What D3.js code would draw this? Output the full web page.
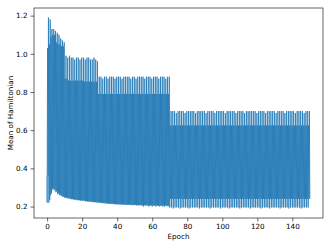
<!DOCTYPE html>
<html>
<head>
<meta charset="utf-8">
<script src="https://cdn.jsdelivr.net/npm/d3@7"></script>
<style>
  html, body { margin: 0; padding: 0; background: #fff; }
  svg { display: block; }
  text { font-family: "DejaVu Sans", sans-serif; }
</style>
</head>
<body>
<svg id="chart"></svg>
<script>
// per-epoch levels (epochs 0..149)
const highPeak = [
  1.19, 1.18, 1.13, 1.13, 1.12, 1.11, 1.10, 1.08, 1.07, 1.06,
  0.99, 0.98, 0.99, 0.98, 0.98, 0.97, 0.98, 0.98, 0.97, 0.98,
  0.98, 0.97, 0.98, 0.98, 0.97, 0.97, 0.98, 0.97, 0.96, 0.88,
  0.88, 0.87, 0.88, 0.88, 0.87, 0.88, 0.88, 0.88, 0.87, 0.88,
  0.88, 0.88, 0.87, 0.88, 0.88, 0.88, 0.88, 0.87, 0.88, 0.88,
  0.87, 0.88, 0.88, 0.88, 0.88, 0.87, 0.88, 0.88, 0.88, 0.87,
  0.88, 0.88, 0.88, 0.87, 0.88, 0.88, 0.88, 0.87, 0.88, 0.88,
  0.70, 0.70, 0.70, 0.69, 0.70, 0.70, 0.70, 0.70, 0.69, 0.70,
  0.70, 0.70, 0.70, 0.70, 0.69, 0.70, 0.70, 0.70, 0.70, 0.70,
  0.69, 0.70, 0.70, 0.70, 0.70, 0.69, 0.70, 0.70, 0.70, 0.70,
  0.70, 0.69, 0.70, 0.70, 0.70, 0.70, 0.70, 0.69, 0.70, 0.70,
  0.70, 0.70, 0.69, 0.70, 0.70, 0.70, 0.70, 0.70, 0.70, 0.69,
  0.70, 0.70, 0.70, 0.70, 0.69, 0.70, 0.70, 0.70, 0.70, 0.70,
  0.69, 0.70, 0.70, 0.70, 0.70, 0.69, 0.70, 0.70, 0.70, 0.70,
  0.70, 0.69, 0.70, 0.70, 0.70, 0.70, 0.69, 0.70, 0.70, 0.70
]
const highBody = [
  1.03, 1.05, 1.09, 1.10, 1.10, 1.06, 1.05, 1.05, 1.04, 1.04,
  0.87, 0.87, 0.86, 0.86, 0.86, 0.86, 0.86, 0.86, 0.86, 0.86,
  0.86, 0.855, 0.855, 0.855, 0.855, 0.855, 0.855, 0.855, 0.855, 0.79,
  0.79, 0.79, 0.79, 0.79, 0.79, 0.79, 0.79, 0.79, 0.79, 0.79,
  0.79, 0.79, 0.79, 0.79, 0.79, 0.79, 0.79, 0.79, 0.79, 0.79,
  0.79, 0.79, 0.79, 0.79, 0.79, 0.79, 0.79, 0.79, 0.79, 0.79,
  0.79, 0.79, 0.79, 0.79, 0.79, 0.79, 0.79, 0.79, 0.79, 0.79,
  0.625, 0.625, 0.625, 0.625, 0.625, 0.625, 0.625, 0.625, 0.625, 0.625,
  0.625, 0.625, 0.625, 0.625, 0.625, 0.625, 0.625, 0.625, 0.625, 0.625,
  0.625, 0.625, 0.625, 0.625, 0.625, 0.625, 0.625, 0.625, 0.625, 0.625,
  0.625, 0.625, 0.625, 0.625, 0.625, 0.625, 0.625, 0.625, 0.625, 0.625,
  0.625, 0.625, 0.625, 0.625, 0.625, 0.625, 0.625, 0.625, 0.625, 0.625,
  0.625, 0.625, 0.625, 0.625, 0.625, 0.625, 0.625, 0.625, 0.625, 0.625,
  0.625, 0.625, 0.625, 0.625, 0.625, 0.625, 0.625, 0.625, 0.625, 0.625,
  0.625, 0.625, 0.625, 0.625, 0.625, 0.625, 0.625, 0.625, 0.625, 0.625
]
const lowBody = [
  0.36, 0.235, 0.27, 0.295, 0.29, 0.28, 0.27, 0.262, 0.257, 0.252,
  0.248, 0.246, 0.244, 0.242, 0.24, 0.238, 0.237, 0.235, 0.234, 0.233,
  0.232, 0.231, 0.229, 0.228, 0.227, 0.226, 0.225, 0.224, 0.223, 0.222,
  0.221, 0.22, 0.219, 0.218, 0.217, 0.216, 0.215, 0.215, 0.214, 0.213,
  0.213, 0.212, 0.212, 0.211, 0.211, 0.21, 0.21, 0.21, 0.209, 0.209,
  0.209, 0.208, 0.208, 0.208, 0.207, 0.207, 0.207, 0.207, 0.206, 0.206,
  0.206, 0.206, 0.206, 0.205, 0.205, 0.205, 0.205, 0.205, 0.205, 0.205,
  0.24, 0.24, 0.24, 0.24, 0.24, 0.24, 0.24, 0.24, 0.24, 0.24,
  0.24, 0.24, 0.24, 0.24, 0.24, 0.24, 0.24, 0.24, 0.24, 0.24,
  0.24, 0.24, 0.24, 0.24, 0.24, 0.24, 0.24, 0.24, 0.24, 0.24,
  0.24, 0.24, 0.24, 0.24, 0.24, 0.24, 0.24, 0.24, 0.24, 0.24,
  0.24, 0.24, 0.24, 0.24, 0.24, 0.24, 0.24, 0.24, 0.24, 0.24,
  0.24, 0.24, 0.24, 0.24, 0.24, 0.24, 0.24, 0.24, 0.24, 0.24,
  0.24, 0.24, 0.24, 0.24, 0.24, 0.24, 0.24, 0.24, 0.24, 0.24,
  0.24, 0.24, 0.24, 0.24, 0.24, 0.24, 0.24, 0.24, 0.24, 0.24
]
const lowPeak = [
  0.22, 0.22, 0.26, 0.29, 0.285, 0.275, 0.265, 0.26, 0.255, 0.25,
  0.246, 0.244, 0.242, 0.24, 0.238, 0.236, 0.235, 0.233, 0.232, 0.231,
  0.23, 0.229, 0.227, 0.226, 0.225, 0.224, 0.223, 0.222, 0.221, 0.22,
  0.219, 0.218, 0.217, 0.216, 0.215, 0.214, 0.213, 0.213, 0.212, 0.211,
  0.211, 0.21, 0.21, 0.209, 0.209, 0.208, 0.208, 0.208, 0.207, 0.207,
  0.207, 0.206, 0.206, 0.206, 0.205, 0.2, 0.205, 0.205, 0.2, 0.204,
  0.2, 0.204, 0.2, 0.203, 0.2, 0.203, 0.2, 0.2, 0.203, 0.2,
  0.195, 0.195, 0.19, 0.195, 0.195, 0.195, 0.19, 0.195, 0.195, 0.195,
  0.195, 0.19, 0.195, 0.195, 0.195, 0.195, 0.195, 0.19, 0.195, 0.195,
  0.195, 0.195, 0.195, 0.19, 0.195, 0.195, 0.195, 0.195, 0.195, 0.19,
  0.195, 0.195, 0.195, 0.195, 0.19, 0.195, 0.195, 0.195, 0.195, 0.195,
  0.19, 0.195, 0.195, 0.195, 0.195, 0.195, 0.19, 0.195, 0.195, 0.195,
  0.195, 0.195, 0.19, 0.195, 0.195, 0.195, 0.195, 0.19, 0.195, 0.195,
  0.195, 0.195, 0.195, 0.19, 0.195, 0.195, 0.195, 0.195, 0.19, 0.195,
  0.195, 0.195, 0.195, 0.195, 0.195, 0.19, 0.195, 0.195, 0.195, 0.195
]
const xTicks = [0, 20, 40, 60, 80, 100, 120, 140]
const yTicks = [0.2, 0.4, 0.6, 0.8, 1.0, 1.2]

const W = 332, H = 249
const margin = { left: 34, top: 8, right: 9, bottom: 31 }
const iw = W - margin.left - margin.right
const ih = H - margin.top - margin.bottom
const blue = '#1f77b4'
const fontSize = 7.2

// trace the line through each epoch: down-spike, body zigzag, up-spike
const pts = []
highPeak.forEach((hp, e) => {
    pts.push([e, lowBody[e]])
    pts.push([e + 0.01, lowPeak[e]])
    pts.push([e + 0.02, lowBody[e]])
    pts.push([e + 0.25, highBody[e]])
    pts.push([e + 0.5, lowBody[e]])
    pts.push([e + 0.74, highBody[e]])
    pts.push([e + 0.75, hp])
    pts.push([e + 0.76, highBody[e]])
})
pts.push([highPeak.length, lowBody[lowBody.length - 1]])

const xExt = [0, highPeak.length]
const yExt = [d3.min(lowPeak), d3.max(highPeak)]
const xPad = (xExt[1] - xExt[0]) * 0.05
const yPad = (yExt[1] - yExt[0]) * 0.05

const x = d3.scaleLinear().domain([xExt[0] - xPad, xExt[1] + xPad]).range([0, iw])
const y = d3.scaleLinear().domain([yExt[0] - yPad, yExt[1] + yPad]).range([ih, 0])

const svg = d3.select('#chart').attr('width', W).attr('height', H)
const g = svg.append('g').attr('transform', `translate(${margin.left},${margin.top})`)

g.append('defs').append('clipPath').attr('id', 'clip')
    .append('rect').attr('width', iw).attr('height', ih)

g.append('path')
    .datum(pts)
    .attr('clip-path', 'url(#clip)')
    .attr('d', d3.line().x(d => x(d[0])).y(d => y(d[1])))
    .style('fill', 'none')
    .style('stroke', blue)
    .style('stroke-width', 0.75)
    .style('stroke-linejoin', 'round')

const xAxis = g.append('g')
    .attr('transform', `translate(0,${ih})`)
    .call(d3.axisBottom(x).tickValues(xTicks).tickSize(3.5).tickPadding(2.5).tickSizeOuter(0))
const yAxis = g.append('g')
    .call(d3.axisLeft(y).tickValues(yTicks).tickFormat(d3.format('.1f')).tickSize(3.5).tickPadding(3).tickSizeOuter(0))

for (const a of [xAxis, yAxis]) {
    a.select('.domain').remove()
    a.selectAll('line').style('stroke', '#000').style('stroke-width', 0.6)
    a.selectAll('text').style('font-family', '"DejaVu Sans", sans-serif')
        .style('font-size', fontSize + 'px').style('fill', '#000')
}

g.append('rect')
    .attr('width', iw).attr('height', ih)
    .style('fill', 'none').style('stroke', '#000').style('stroke-width', 0.6)

svg.append('text')
    .attr('x', margin.left + iw / 2).attr('y', 239)
    .attr('text-anchor', 'middle')
    .style('font-size', fontSize + 'px')
    .text('Epoch')

svg.append('text')
    .attr('transform', `translate(13,${margin.top + ih / 2}) rotate(-90)`)
    .attr('text-anchor', 'middle')
    .style('font-size', fontSize + 'px')
    .text('Mean of Hamiltonian')
</script>
</body>
</html>
